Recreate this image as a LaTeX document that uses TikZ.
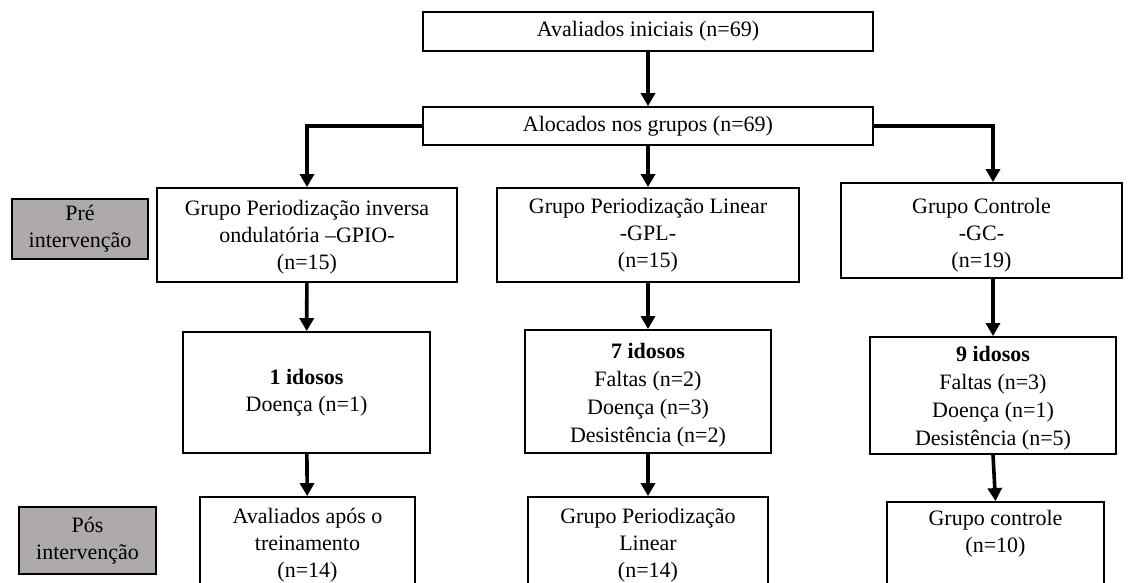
\documentclass[tikz,border=0pt]{standalone}
\usepackage{fontspec}
\setmainfont{Liberation Serif}
\usetikzlibrary{arrows.meta}

\definecolor{cinza}{RGB}{174,170,170}

\tikzset{
  caixa/.style={draw, line width=1.8pt, align=center, inner sep=0pt,
    font=\fontsize{22}{27}\selectfont},
  fase/.style={caixa, fill=cinza},
  perdatexto/.style={align=center, inner sep=0pt, font=\fontsize{22}{28}\selectfont},
  seta/.style={line width=3.6pt, -{Triangle[width=14pt,length=13pt]}}
}

\begin{document}
\begin{tikzpicture}[x=1pt, y=-1pt]
  \useasboundingbox (0,0) rectangle (1130,583);

  % Topo
  \node[caixa, minimum width=450, minimum height=39] (inicio) at (648,31.5)
    {Avaliados iniciais (n=69)};
  \node[caixa, minimum width=450, minimum height=38] (aloc) at (648,126)
    {Alocados nos grupos (n=69)};

  % Fases
  \node[fase, minimum width=136, minimum height=60] (pre) at (80,229)
    {Pré\\intervenção};
  \node[fase, minimum width=137, minimum height=67] (pos) at (87.5,540.5)
    {Pós\\intervenção};

  % Grupos
  \node[caixa, minimum width=300, minimum height=94] (gpio) at (307,235)
    {\rule{0pt}{20pt}Grupo Periodização inversa\\ondulatória --GPIO-\\(n=15)};
  \node[caixa, minimum width=302, minimum height=94] (gpl) at (648,235)
    {Grupo Periodização Linear\\-GPL-\\(n=15)};
  \node[caixa, minimum width=281, minimum height=95] (gc) at (981.5,230.5)
    {\rule{0pt}{24pt}Grupo Controle\\-GC-\\(n=19)};

  % Perdas
  \node[caixa, minimum width=247, minimum height=121] (perda1) at (306.5,392.5)
    {\textbf{1 idosos}\\Doença (n=1)};
  \node[caixa, minimum width=246, minimum height=123] (perda2) at (648,391.5) {};
  \node[perdatexto] (texto2) at ([yshift=-4pt]perda2.center)
    {\textbf{7 idosos}\\Faltas (n=2)\\Doença (n=3)\\Desistência (n=2)};
  \node[caixa, minimum width=246, minimum height=117] (perda3) at (993,395.5) {};
  \node[perdatexto] (texto3) at ([yshift=-3pt]perda3.center)
    {\textbf{9 idosos}\\Faltas (n=3)\\Doença (n=1)\\Desistência (n=5)};

  % Pos intervencao
  \node[caixa, minimum width=215, minimum height=96] (final1) at (307.5,545)
    {Avaliados após o\\treinamento\\(n=14)};
  \node[caixa, minimum width=240, minimum height=96] (final2) at (648,545)
    {Grupo Periodização\\Linear\\(n=14)};
  \node[caixa, minimum width=217, minimum height=96, text depth=37pt] (final3) at (995.5,550)
    {Grupo controle\\(n=10)};

  % Setas
  \draw[seta] (inicio) -- (aloc);
  \draw[seta] (aloc.west) -| (gpio.north);
  \draw[seta] (aloc) -- (gpl);
  \draw[seta] (aloc.east) -| (gc.north -| perda3.north);

  \draw[seta] (gpio) -- (perda1);
  \draw[seta] (gpl) -- (perda2);
  \draw[seta] (gc.south -| perda3.north) -- (perda3.north);

  \draw[seta] (perda1) -- (final1);
  \draw[seta] (perda2) -- (final2);
  \draw[seta] (perda3.south) -- (final3.north);

\end{tikzpicture}
\end{document}
